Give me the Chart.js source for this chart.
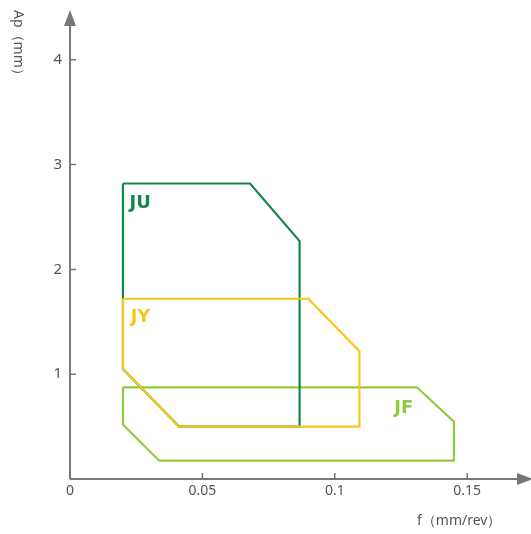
<!DOCTYPE html>
<html>
<head>
<meta charset="utf-8">
<script src="https://cdn.jsdelivr.net/npm/chart.js@4"></script>
<style>
  html, body { margin: 0; padding: 0; background: #fff; }
  #wrap { width: 531px; height: 534px; position: relative; }
</style>
</head>
<body>
<div id="wrap"><canvas id="chart"></canvas></div>
<script>
// 축 눈금
const xTicks = [0, 0.05, 0.1, 0.15];
const yTicks = [1, 2, 3, 4];

// 영역 꼭짓점 (f, Ap)
const juF = [0.02, 0.068, 0.0867, 0.0867, 0.0412, 0.02, 0.02];
const juAp = [2.82, 2.82, 2.27, 0.50, 0.50, 1.05, 2.82];

const jyF = [0.02, 0.090, 0.1093, 0.1093, 0.0412, 0.02, 0.02];
const jyAp = [1.72, 1.72, 1.22, 0.50, 0.50, 1.05, 1.72];

const jfF = [0.02, 0.131, 0.145, 0.145, 0.0337, 0.02, 0.02];
const jfAp = [0.875, 0.875, 0.547, 0.175, 0.175, 0.52, 0.875];

const names = ['JU', 'JY', 'JF'];
const colors = ['#15864a', '#f7c619', '#8ecb3f'];
// 라벨 위치 (데이터 좌표)
const labelF = [0.0225, 0.0229, 0.1225];
const labelAp = [2.63, 1.54, 0.67];

const toPts = (xs, ys) => xs.map((x, i) => ({ x: x, y: ys[i] }));

const axisColor = '#777';
const textColor = '#555';
const FONT = '"Noto Sans", "Open Sans", sans-serif';

const axesPlugin = {
    id: 'axesPlugin',
    afterDraw(chart) {
        const ctx = chart.ctx;
        const xs = chart.scales.x, ys = chart.scales.y;
        const x0 = xs.getPixelForValue(0), y0 = ys.getPixelForValue(0);
        ctx.save();
        ctx.strokeStyle = axisColor;
        ctx.fillStyle = axisColor;
        ctx.lineWidth = 2;
        // 축 선
        ctx.beginPath();
        ctx.moveTo(x0, y0);
        ctx.lineTo(x0, 22);
        ctx.moveTo(x0, y0);
        ctx.lineTo(522, y0);
        ctx.stroke();
        // 화살표
        ctx.beginPath();
        ctx.moveTo(x0, 10);
        ctx.lineTo(x0 - 6, 26);
        ctx.lineTo(x0 + 6, 26);
        ctx.closePath();
        ctx.fill();
        ctx.beginPath();
        ctx.moveTo(533, y0);
        ctx.lineTo(517, y0 - 6);
        ctx.lineTo(517, y0 + 6);
        ctx.closePath();
        ctx.fill();
        // 눈금
        ctx.lineWidth = 1.5;
        ctx.beginPath();
        xTicks.slice(1).forEach(v => {
            const px = xs.getPixelForValue(v);
            ctx.moveTo(px, y0);
            ctx.lineTo(px, y0 - 6);
        });
        yTicks.forEach(v => {
            const py = ys.getPixelForValue(v);
            ctx.moveTo(x0, py);
            ctx.lineTo(x0 + 6, py);
        });
        ctx.stroke();

        // 눈금 라벨
        ctx.fillStyle = textColor;
        ctx.font = '14px ' + FONT;
        ctx.textAlign = 'center';
        ctx.textBaseline = 'middle';
        xTicks.forEach(v => {
            ctx.fillText(String(v), xs.getPixelForValue(v), y0 + 12);
        });
        ctx.font = '15px ' + FONT;
        ctx.textAlign = 'right';
        yTicks.forEach(v => {
            ctx.fillText(String(v), x0 - 8, ys.getPixelForValue(v));
        });

        // 축 제목
        ctx.font = '14px ' + FONT;
        ctx.textAlign = 'left';
        ctx.fillText('f（mm/rev）', 417, 521);
        ctx.save();
        ctx.translate(18, 10);
        ctx.rotate(Math.PI / 2);
        ctx.fillText('Ap（mm）', 0, 0);
        ctx.restore();

        // 영역 라벨
        ctx.font = 'bold 18px "DejaVu Sans", sans-serif';
        ctx.textAlign = 'left';
        names.forEach((n, i) => {
            ctx.fillStyle = colors[i];
            ctx.fillText(n, xs.getPixelForValue(labelF[i]), ys.getPixelForValue(labelAp[i]));
        });
        ctx.restore();
    }
};

const ctx = document.getElementById('chart').getContext('2d');
new Chart(ctx, {
    type: 'scatter',
    data: {
        datasets: [
            { label: 'JY', data: toPts(jyF, jyAp), borderColor: colors[1] },
            { label: 'JU', data: toPts(juF, juAp), borderColor: colors[0] },
            { label: 'JF', data: toPts(jfF, jfAp), borderColor: colors[2] }
        ].map(d => Object.assign(d, {
            showLine: true,
            borderWidth: 2.2,
            pointRadius: 0,
            fill: false,
            tension: 0
        }))
    },
    options: {
        responsive: true,
        maintainAspectRatio: false,
        animation: false,
        events: [],
        layout: { padding: { top: 11, right: 0, left: 0, bottom: 0 } },
        plugins: { legend: { display: false }, tooltip: { enabled: false } },
        scales: {
            x: {
                type: 'linear', min: 0, max: 0.1741,
                grid: { display: false }, border: { display: false },
                ticks: { display: false },
                afterFit: s => { s.height = 55; }
            },
            y: {
                type: 'linear', min: 0, max: 4.466,
                grid: { display: false }, border: { display: false },
                ticks: { display: false },
                afterFit: s => { s.width = 70; }
            }
        }
    },
    plugins: [axesPlugin]
});
</script>
</body>
</html>
